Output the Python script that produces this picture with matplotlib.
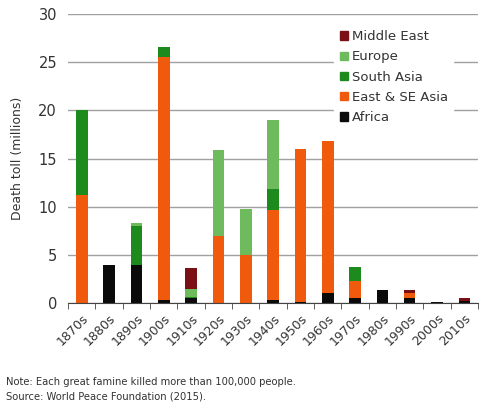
import numpy as np
import matplotlib
matplotlib.use("Agg")
import matplotlib.pyplot as plt
from matplotlib.patches import Patch

decades = ["1870s", "1880s", "1890s", "1900s", "1910s", "1920s", "1930s", "1940s",
           "1950s", "1960s", "1970s", "1980s", "1990s", "2000s", "2010s"]

# death toll, millions, stacked bottom to top
africa = [0.0, 4.0, 4.0, 0.3, 0.5, 0.0, 0.0, 0.3, 0.1, 1.1, 0.5, 1.4, 0.5, 0.15, 0.2]
east_se_asia = [11.2, 0.0, 0.0, 25.2, 0.0, 7.0, 5.0, 9.4, 15.9, 15.7, 1.8, 0.0, 0.6, 0.0, 0.0]
south_asia = [8.8, 0.0, 4.0, 1.1, 0.1, 0.0, 0.0, 2.1, 0.0, 0.0, 1.5, 0.0, 0.0, 0.0, 0.0]
europe = [0.0, 0.0, 0.3, 0.0, 0.9, 8.9, 4.8, 7.2, 0.0, 0.0, 0.0, 0.0, 0.0, 0.0, 0.0]
middle_east = [0.0, 0.0, 0.0, 0.0, 2.1, 0.0, 0.0, 0.0, 0.0, 0.0, 0.0, 0.0, 0.3, 0.0, 0.3]

series = [
    ("Africa", africa, "#0a0a0a"),
    ("East & SE Asia", east_se_asia, "#f05a0c"),
    ("South Asia", south_asia, "#1c8a1c"),
    ("Europe", europe, "#6dbb5c"),
    ("Middle East", middle_east, "#7a1016"),
]

fig = plt.figure(figsize=(4.8, 4.08), dpi=100)
ax = fig.add_axes([0.142, 0.257, 0.854, 0.709])

x = np.arange(len(decades))
bottom = np.zeros(len(decades))
for name, vals, color in series:
    ax.bar(x, vals, 0.42, bottom=bottom, color=color, label=name, zorder=3)
    bottom += np.array(vals)

ax.set_ylim(0, 30)
ax.set_xlim(-0.5, len(decades) - 0.5)
ax.set_yticks(range(0, 31, 5))
ax.yaxis.grid(True, color="#a0a0a0", linewidth=1.0, zorder=0)
ax.tick_params(axis="y", length=0, labelsize=10.5, labelcolor="#333333", pad=8)

ax.set_xticks(x)
ax.set_xticklabels(decades, rotation=45, ha="right", rotation_mode="anchor",
                   fontsize=9, color="#333333")
ax.set_xticks(np.arange(-0.5, len(decades), 1.0), minor=True)
ax.tick_params(axis="x", which="major", length=0, pad=6)
ax.tick_params(axis="x", which="minor", length=4, color="#444444", direction="out")

for s in ["left", "right", "top"]:
    ax.spines[s].set_visible(False)
ax.spines["bottom"].set_color("#444444")
ax.spines["bottom"].set_zorder(4)

ax.set_ylabel("Death toll (millions)", fontsize=9, color="#333333", labelpad=10)

handles = [Patch(color=c, label=n) for n, _, c in series[::-1]]
leg = ax.legend(handles=handles, loc="upper right", bbox_to_anchor=(0.955, 0.985),
                frameon=True, fontsize=9.5, handlelength=0.6, handleheight=0.6,
                handletextpad=0.3, labelspacing=0.55, borderpad=0.4)
leg.get_frame().set_edgecolor("white")
leg.get_frame().set_facecolor("white")
leg.get_frame().set_alpha(1.0)
leg.set_zorder(5)
for t in leg.get_texts():
    t.set_color("#333333")

fig.text(0.012, 0.057, "Note: Each great famine killed more than 100,000 people.",
         fontsize=7.2, color="#333333")
fig.text(0.012, 0.020, "Source: World Peace Foundation (2015).",
         fontsize=7.2, color="#333333")

fig.savefig("out.png", dpi=100)
